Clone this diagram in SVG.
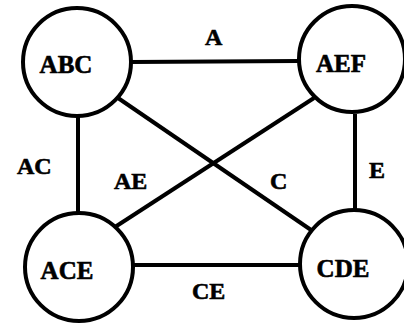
<svg xmlns="http://www.w3.org/2000/svg" width="404" height="324" viewBox="0 0 404 324">
  <style>
    .node { fill: #fff; stroke: #000; stroke-width: 4; }
    .edge { stroke: #000; stroke-width: 4; fill: none; }
    text { font-family: "Liberation Serif", "Times New Roman", serif; font-weight: 700; fill: #000; stroke: #000; stroke-width: 0.6; }
    .nl { font-size: 25px; text-anchor: middle; }
    .el { font-size: 24px; }
  </style>
  <rect width="404" height="324" fill="#fff"/>
  <g id="connectors">
    <line class="edge" x1="131" y1="62" x2="299" y2="61"/>
    <line class="edge" x1="78" y1="117" x2="78" y2="212"/>
    <line class="edge" x1="355" y1="114" x2="355" y2="209"/>
    <line class="edge" x1="133" y1="265" x2="300" y2="265"/>
    <line class="edge" x1="118" y1="98" x2="314" y2="232"/>
    <line class="edge" x1="314" y1="98" x2="115" y2="227"/>
    <text class="el" x="205" y="45">A</text>
    <text class="el" x="17" y="174">AC</text>
    <text class="el" x="114" y="189">AE</text>
    <text class="el" x="270" y="189">C</text>
    <text class="el" x="369" y="178">E</text>
    <text class="el" x="192" y="299">CE</text>
  </g>
  <g id="node-abc">
    <circle class="node" cx="77" cy="62" r="54"/>
    <text class="nl" x="66" y="73">ABC</text>
  </g>
  <g id="node-aef">
    <circle class="node" cx="352" cy="59" r="53"/>
    <text class="nl" x="341" y="72">AEF</text>
  </g>
  <g id="node-ace">
    <circle class="node" cx="79" cy="267" r="54"/>
    <text class="nl" x="67" y="279">ACE</text>
  </g>
  <g id="node-cde">
    <circle class="node" cx="354" cy="264" r="54"/>
    <text class="nl" x="343" y="277">CDE</text>
  </g>
</svg>
